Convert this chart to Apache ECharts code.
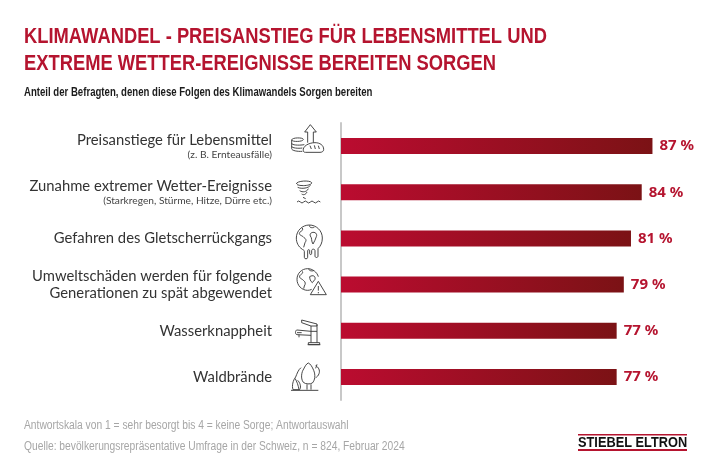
<!DOCTYPE html>
<html style="height: 100%">
<head>
<meta charset="utf-8">
<style>
	html, body { margin: 0; padding: 0; background: #fff; }
	#main { width: 710px; height: 473px; }
</style>
<script src="https://cdn.jsdelivr.net/npm/echarts@6/dist/echarts.min.js"></script>
</head>
<body>
<div id="main"></div>
<script>
	var categories = [
		'Preisanstiege für Lebensmittel',
		'Zunahme extremer Wetter-Ereignisse',
		'Gefahren des Gletscherrückgangs',
		'Umweltschäden werden für folgende\nGenerationen zu spät abgewendet',
		'Wasserknappheit',
		'Waldbrände'
	];
	var subLabels = ['(z. B. Ernteausfälle)', '(Starkregen, Stürme, Hitze, Dürre etc.)', '', '', '', ''];
	var values = [87, 84, 81, 79, 77, 77];

	var titleLines = ['KLIMAWANDEL - PREISANSTIEG FÜR LEBENSMITTEL UND', 'EXTREME WETTER-EREIGNISSE BEREITEN SORGEN'];
	var subtitle = 'Anteil der Befragten, denen diese Folgen des Klimawandels Sorgen bereiten';
	var footnotes = [
		'Antwortskala von 1 = sehr besorgt bis 4 = keine Sorge; Antwortauswahl',
		'Quelle: bevölkerungsrepräsentative Umfrage in der Schweiz, n = 824, Februar 2024'
	];
	var logoText = 'STIEBEL ELTRON';

	// icon outlines, drawn in a 150 x 150 box (3x)
	var icons = [
		{ y: 120, d: 'M68 68V36H59L76 14L94 36H85V68M55 58C55 52 20 52 20 60C20 66 55 66 55 58M20 60V86C20 92 38 95 52 94M20 70C20 75 40 77 58 74M20 79C20 84 40 86 52 84M55 92C52 80 70 68 90 68C105 68 116 76 116 88C116 95 110 97 105 97H62C58 97 55 96 55 92ZM75 77L79 87M88 76L91 87M100 77L103 87' },
		{ y: 170, d: 'M34 42C34 32 76 30 80 38C82 46 50 50 36 44M38 52C50 58 72 54 76 46M44 62C52 68 66 66 70 56M50 72C56 76 62 74 66 66M54 82L62 86M36 96Q41 90 46 96T56 96T66 96T76 96T86 96T96 96T106 96' },
		{ y: 220, d: 'M52 88C40 80 34 68 34 54C34 32 52 15 73 15C94 15 112 32 112 54C112 68 107 78 99 86V108C99 114 90 114 90 108V92C90 86 80 86 80 92V100C80 105 74 105 74 100V92C74 88 68 88 68 92V112C68 118 58 118 58 112V94C58 90 54 90 52 88ZM52 24C56 34 46 32 44 38C40 46 52 46 56 52C62 56 66 60 60 68L56 82M74 16C72 24 82 24 88 22M80 38C90 34 98 42 94 50C92 58 88 64 84 72C78 64 82 54 76 48C74 44 76 40 80 38Z' },
		{ y: 262, d: 'M80 82C76 84 72 85 68 85C50 85 36 70 36 52C36 34 50 20 68 20C82 20 96 30 100 44M52 28C56 36 46 36 44 42C42 50 52 50 56 56C62 60 62 66 58 72L56 80M72 20C70 26 80 28 86 26M74 44C84 38 92 42 90 52L82 62C76 58 74 50 74 44ZM100 58L124 98H76ZM100 72V86M100 90V94' },
		{ y: 310, d: 'M50 30L96 42V48H78L50 38ZM96 44V98M78 48V98M78 64H96M78 76L36 74C30 74 30 60 36 60L78 64M36 68H50M42 74V82M70 98H104V104H70ZM68 104H106' },
		{ y: 355, d: 'M55 82C46 70 50 50 56 42C60 34 64 26 70 24C76 26 82 36 86 46C92 60 90 76 82 84C76 88 62 88 55 82ZM66 88V104M78 88V104M48 38C40 44 36 56 32 66C24 76 20 92 24 104H44C50 94 44 82 38 76M30 70C36 80 40 92 42 104M92 32C100 36 106 46 102 56C100 62 96 66 92 68M96 28L92 40M18 106H100' }
	];

	var chart = echarts.init(document.getElementById('main'), null, { renderer: 'canvas' });

	var graphics = icons.map(function (ic, i) {
		echarts.graphic.registerShape('icon' + i, echarts.graphic.extendPath(ic.d, {}));
		return {
			type: 'icon' + i,
			x: 285,
			y: ic.y,
			scaleX: 1 / 3,
			scaleY: 1 / 3,
			silent: true,
			style: { fill: 'none', stroke: '#3a3a3a', lineWidth: 2.8 }
		};
	});

	// narrow look: no condensed font installed, so squeeze the text
	function squeezed(text, x, y, scaleX, font, fill) {
		return {
			type: 'text', x: x, y: y, scaleX: scaleX, silent: true,
			style: { text: text, font: font, fill: fill, textVerticalAlign: 'middle' }
		};
	}
	var bold22 = 'bold 22px "Liberation Sans"';
	graphics.push(
		squeezed(titleLines[0], 24, 37, 0.834, bold22, '#b5142f'),
		squeezed(titleLines[1], 24, 64, 0.834, bold22, '#b5142f'),
		squeezed(subtitle, 24, 93, 0.8, 'bold 12px "Liberation Sans"', '#1c1c1c'),
		squeezed(footnotes[0], 24, 426, 0.855, '12px "Liberation Sans"', '#a6a6a6'),
		squeezed(footnotes[1], 24, 447, 0.855, '12px "Liberation Sans"', '#a6a6a6'),
		squeezed(logoText, 578, 442.5, 0.825, 'bold 15.5px "Liberation Sans"', '#111'),
		{ type: 'rect', silent: true, shape: { x: 578, y: 434, width: 109, height: 1.6 }, style: { fill: '#b5142f' } },
		{ type: 'rect', silent: true, shape: { x: 578, y: 449, width: 109, height: 2 }, style: { fill: '#b5142f' } }
	);

	var option = {
		animation: false,
		backgroundColor: '#fff',
		grid: { left: 341, top: 123, width: 358, height: 277 },
		xAxis: { type: 'value', min: 0, max: 100, show: false },
		yAxis: {
			type: 'category',
			inverse: true,
			data: categories,
			axisTick: { show: false },
			axisLine: { show: true, lineStyle: { color: '#c8c8c8', width: 2 } },
			axisLabel: {
				margin: 69,
				align: 'right',
				formatter: function (val, i) {
					var s = subLabels[i];
					if (s) return '{mainSub|' + val + '}\n{sub|' + s + '}';
					return '{main|' + val.replace('\n', '}\n{main|') + '}';
				},
				rich: {
					main: { fontFamily: 'Lato', fontSize: 14.8, lineHeight: 16.5, color: '#333', align: 'right' },
					mainSub: { fontFamily: 'Lato', fontSize: 14.8, lineHeight: 17, color: '#333', align: 'right', padding: [6, 0, 0, 0] },
					sub: { fontFamily: 'Lato', fontSize: 10.2, lineHeight: 18, color: '#444', align: 'right' }
				}
			}
		},
		series: [{
			type: 'bar',
			data: values,
			barWidth: 16,
			silent: true,
			itemStyle: {
				color: new echarts.graphic.LinearGradient(0, 0, 1, 0, [
					{ offset: 0, color: '#bb0c30' },
					{ offset: 1, color: '#7b1215' }
				])
			},
			label: {
				show: true,
				position: 'right',
				distance: 7,
				formatter: '{c} %',
				color: '#b5142f',
				fontFamily: 'Noto Sans',
				fontWeight: 'bold',
				fontSize: 15
			}
		}],
		graphic: graphics
	};
	chart.setOption(option);
</script>
</body>
</html>
